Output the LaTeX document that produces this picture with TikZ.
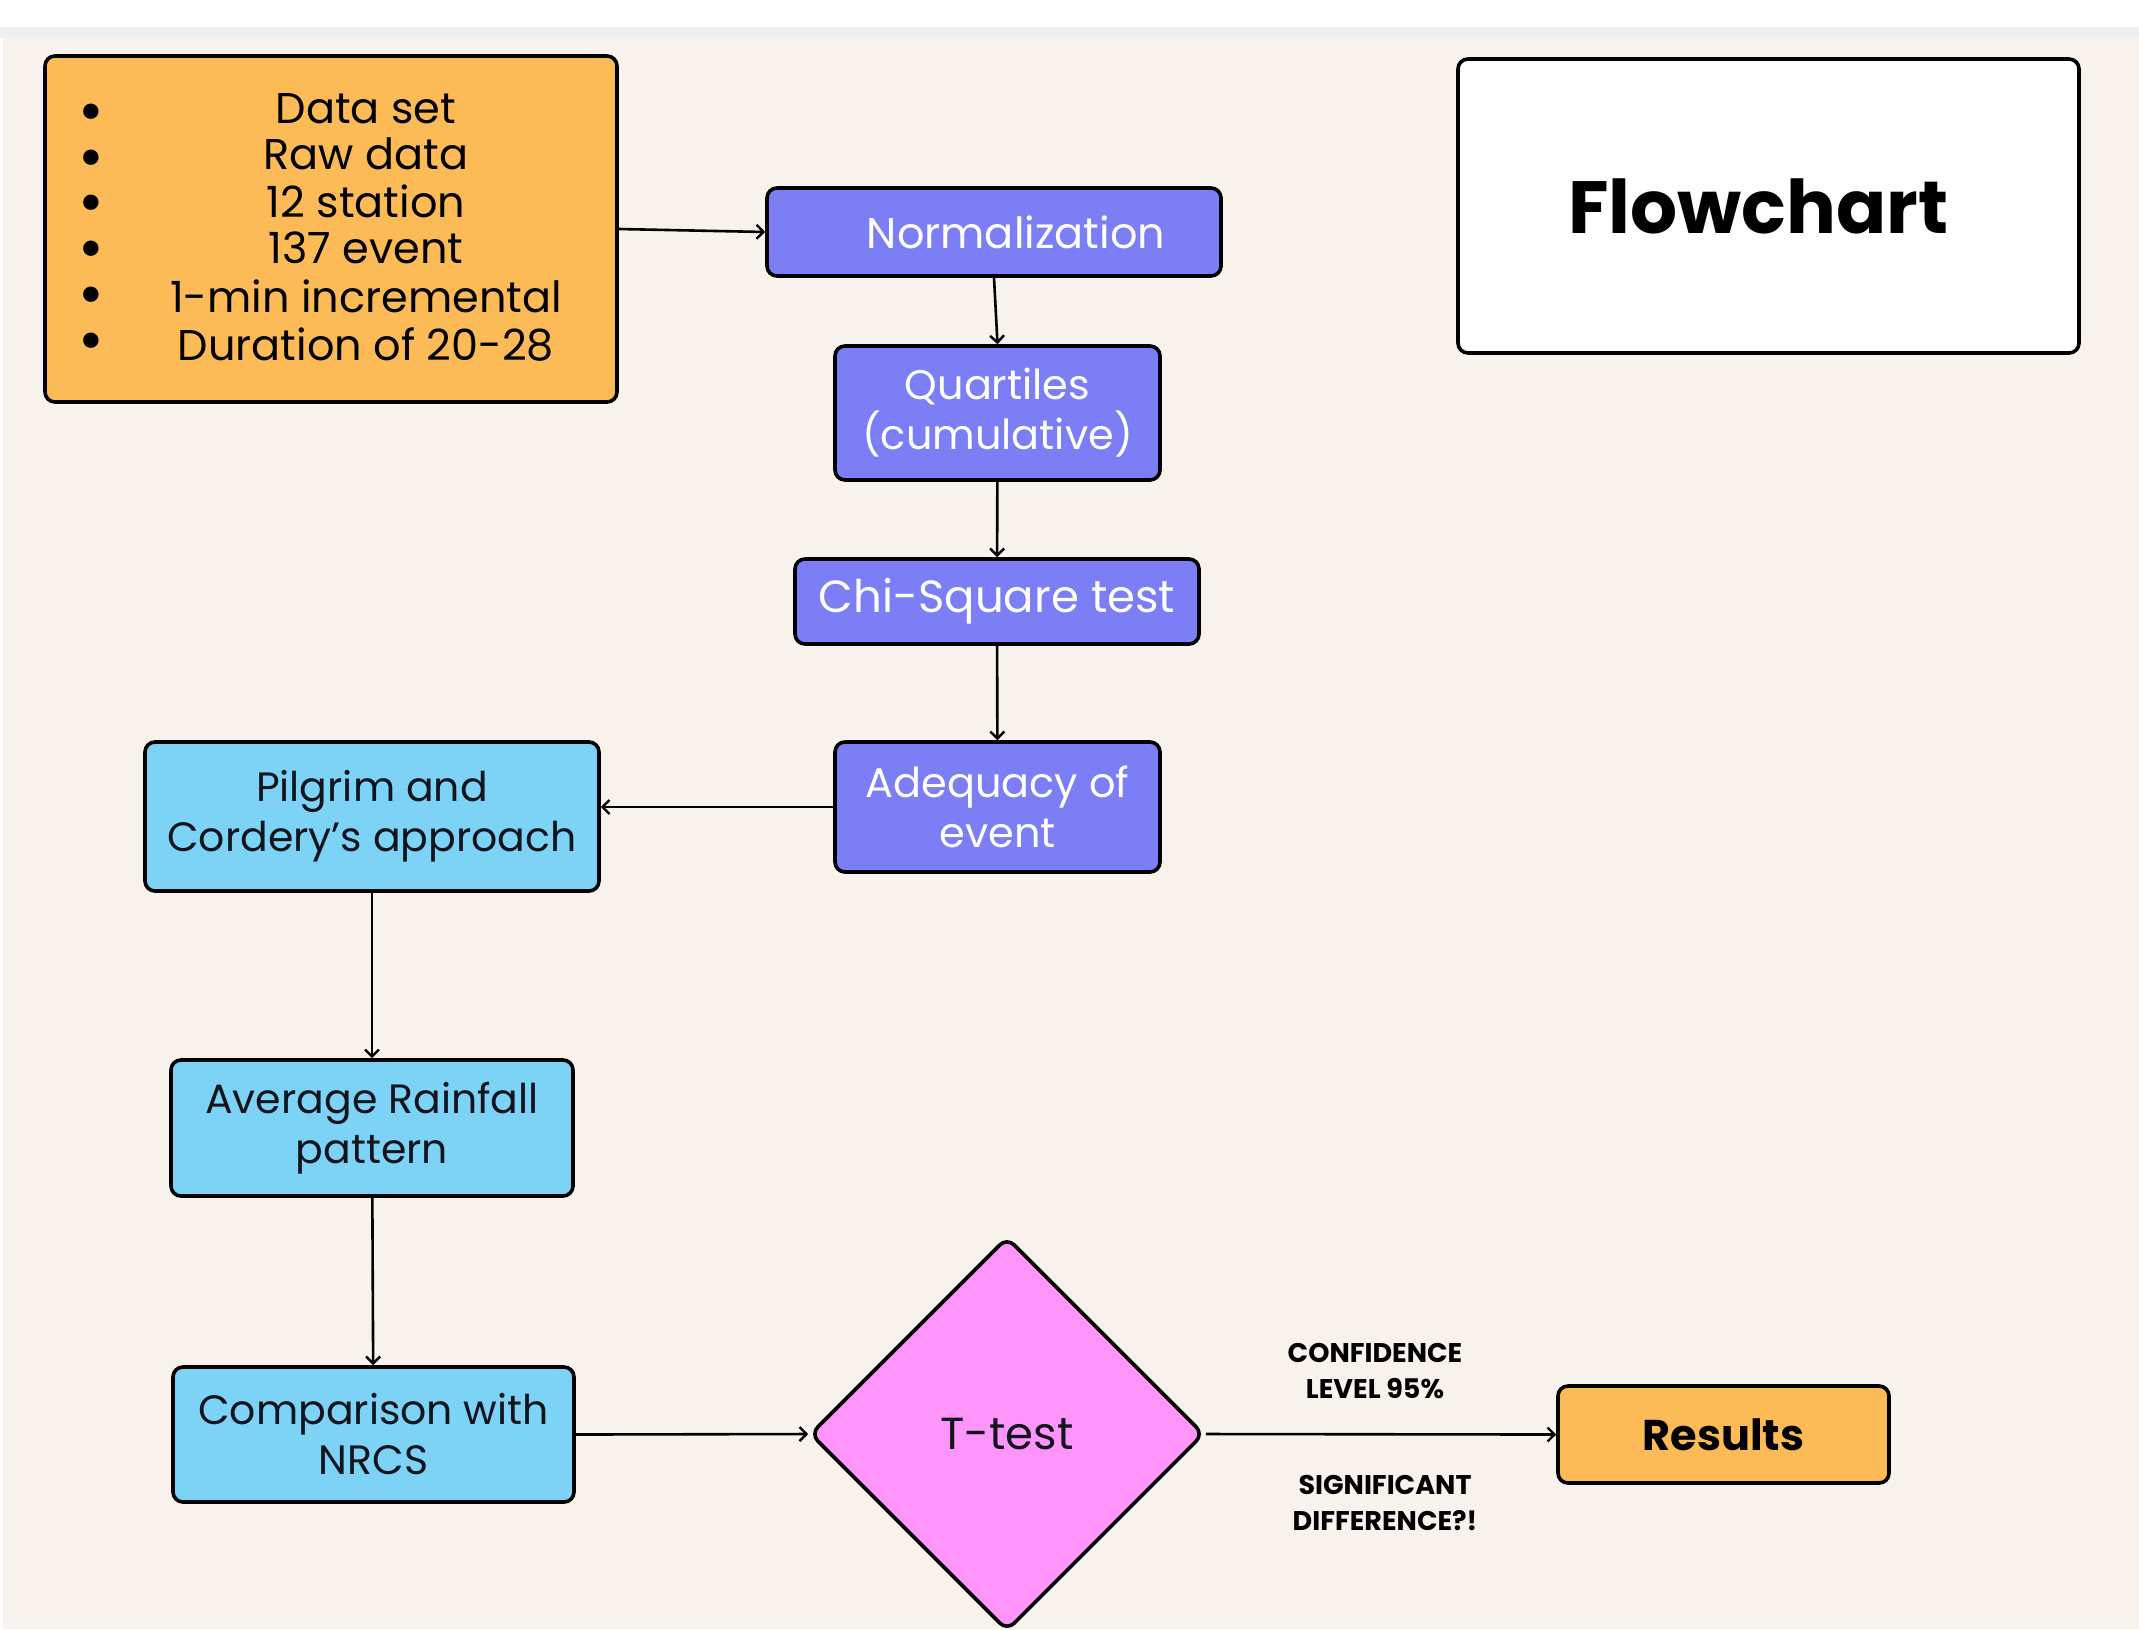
\documentclass[tikz,border=0pt]{standalone}
\usepackage{fontspec}
\setmainfont{Poppins}
\usetikzlibrary{arrows.meta,shapes.geometric}
\definecolor{bgbeige}{RGB}{247,243,236}
\definecolor{topgrey}{RGB}{238,240,242}
\definecolor{orangebox}{RGB}{253,187,88}
\definecolor{violetbox}{RGB}{123,126,245}
\definecolor{skybox}{RGB}{125,211,245}
\definecolor{pinkbox}{RGB}{255,148,251}
\definecolor{darktext}{RGB}{20,20,30}
\newcommand{\bigbul}{\strut\smash{\raisebox{-2.3pt}{\scalebox{1.45}{\textbullet}}}}
\begin{document}
\begin{tikzpicture}[x=0.5pt,y=-0.5pt,
  basebox/.style={draw=black, line width=1.8pt, rounded corners=5pt, inner sep=0pt, align=center},
  violet/.style={basebox, fill=violetbox, text=white, font=\fontsize{20.7}{25}\selectfont},
  sky/.style={basebox, fill=skybox, text=darktext, font=\fontsize{20.5}{25}\selectfont},
  plain/.style={inner sep=0pt, align=center},
  lbl/.style={inner sep=0pt, align=center, font=\bfseries\fontsize{13.5}{17.7}\selectfont},
  arr/.style={draw=black, line width=1.3pt, -{Straight Barb[length=3.5pt,width=7pt,line width=1.2pt]}}]
% page and background
\useasboundingbox (0,0) rectangle (2139,1629);
\clip (0,0) rectangle (2139,1629);
\fill[white] (0,0) rectangle (2139,1629);
\fill[topgrey] (0,27) rectangle (2139,38);
\fill[bgbeige] (3,38) rectangle (2139,1629);

% data box
\node[basebox, fill=orangebox, minimum width=286pt, minimum height=173pt] (data) at (331,229) {};
\node[plain, font=\fontsize{21.5}{22.9}\selectfont] (datatext) at (366,233)
  {\strut Data set\\\strut Raw data\\\strut 12 station\\\strut 137 event\\\strut 1-min incremental\\\strut Duration of 20-28};
\node[plain, font=\fontsize{21.5}{22.9}\selectfont] (bullets) at (91,233)
  {\bigbul\\\bigbul\\\bigbul\\\bigbul\\\bigbul\\\bigbul};

% title box
\node[basebox, fill=white, minimum width=310.5pt, minimum height=147pt, font=\bfseries\fontsize{37}{40}\selectfont] (title) at (1768.5,206) {\hspace*{-10pt}Flowchart};

% violet column
\node[violet, minimum width=227pt, minimum height=44pt, font=\fontsize{21.5}{25}\selectfont] (norm) at (994,232) {\hspace*{22pt}Normalization};
\node[violet, minimum width=162.5pt, minimum height=67pt] (quart) at (997.5,413) {Quartiles\\(cumulative)};
\node[violet, minimum width=202pt, minimum height=42.5pt, font=\fontsize{22.5}{25}\selectfont] (chi) at (997,601.5) {Chi-Square test};
\node[violet, minimum width=162.5pt, minimum height=65pt] (adeq) at (997.5,807) {Adequacy of\\event};

% sky column
\node[sky, minimum width=227pt, minimum height=74.5pt] (pilg) at (372,816.5) {Pilgrim and\\Cordery’s approach};
\node[sky, minimum width=201pt, minimum height=68pt] (avg) at (372,1128) {Average Rainfall\\pattern};
\node[sky, minimum width=200.5pt, minimum height=67.5pt] (comp) at (373.5,1434.5) {Comparison with\\NRCS};

% decision and result
\node[diamond, aspect=1, draw=black, line width=1.8pt, rounded corners=5pt, fill=pinkbox, inner sep=0pt,
      minimum width=197pt, minimum height=197pt, text=darktext, font=\fontsize{22.5}{25}\selectfont] (tt) at (1007,1434) {T-test};
\node[basebox, fill=orangebox, minimum width=165.5pt, minimum height=48.5pt, font=\bfseries\fontsize{21.5}{25}\selectfont] (res) at (1723.5,1434.5) {Results};

% edge labels
\node[lbl] (conf) at (1375,1371) {CONFIDENCE\\LEVEL 95\%};
\node[lbl] (sig) at (1385,1503) {SIGNIFICANT\\DIFFERENCE?!};

% connectors
\draw[arr] (data.east) -- (norm.west);
\draw[arr] (norm.south) -- (quart.north);
\draw[arr] (quart) -- (chi);
\draw[arr] (chi) -- (adeq);
\draw[arr] (adeq.west) -- (adeq.west -| pilg.east);
\draw[arr] (pilg) -- (avg);
\draw[arr] (avg) -- (comp);
\draw[arr] (comp.east) -- (tt.west);
\draw[arr] (tt.east) -- (res.west);
\end{tikzpicture}
\end{document}
